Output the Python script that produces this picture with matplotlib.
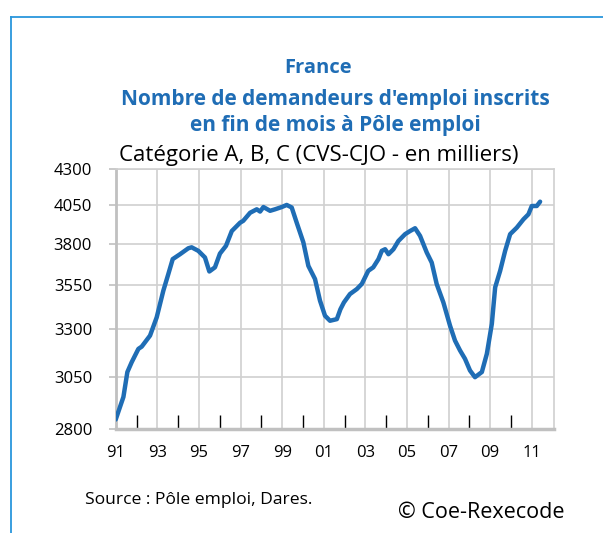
import numpy as np
import matplotlib.pyplot as plt
from matplotlib.lines import Line2D
from matplotlib.ticker import FixedLocator, NullFormatter, FixedFormatter

# demandeurs d'emploi cat. A,B,C (milliers)
years = [1991.0, 1991.37, 1991.56, 1991.77, 1992.09, 1992.25, 1992.65, 1992.97,
         1993.29, 1993.53, 1993.74, 1994.09, 1994.49, 1994.65, 1994.97, 1995.29,
         1995.50, 1995.77, 1996.01, 1996.30, 1996.58, 1996.98, 1997.13, 1997.46,
         1997.78, 1997.94, 1998.10, 1998.42, 1998.66, 1998.98, 1999.22, 1999.46,
         1999.70, 2000.02, 2000.26, 2000.58, 2000.82, 2001.06, 2001.30, 2001.63,
         2001.80, 2001.97, 2002.26, 2002.59, 2002.83, 2003.14, 2003.38, 2003.63,
         2003.79, 2003.95, 2004.11, 2004.35, 2004.59, 2004.91, 2005.15, 2005.39,
         2005.63, 2005.95, 2006.19, 2006.43, 2006.75, 2007.07, 2007.31, 2007.55,
         2007.79, 2008.03, 2008.27, 2008.60, 2008.84, 2009.08, 2009.24, 2009.48,
         2009.72, 2009.96, 2010.28, 2010.60, 2010.84, 2011.00, 2011.24, 2011.40]
values = [2842, 2950, 3074, 3125, 3194, 3206, 3265, 3365,
          3517, 3615, 3705, 3735, 3772, 3778, 3756, 3715,
          3630, 3655, 3739, 3787, 3881, 3935, 3947, 4000,
          4023, 4008, 4038, 4013, 4023, 4038, 4052, 4035,
          3935, 3809, 3664, 3585, 3459, 3374, 3346, 3355,
          3410, 3449, 3497, 3526, 3556, 3634, 3655, 3705,
          3756, 3766, 3735, 3766, 3818, 3861, 3881, 3899,
          3850, 3746, 3684, 3555, 3449, 3319, 3238, 3186,
          3142, 3082, 3048, 3074, 3168, 3329, 3536, 3634,
          3756, 3861, 3903, 3957, 3990, 4045, 4045, 4074]

yticks = [2800, 3050, 3300, 3550, 3800, 4050, 4300]
xticks = list(range(1991, 2012, 2))
xlabels = ["91", "93", "95", "97", "99", "01", "03", "05", "07", "09", "11"]
minor_x = list(range(1992, 2011, 2))

plt.rcParams['font.family'] = ['Open Sans', 'DejaVu Sans']

fig = plt.figure(figsize=(6.03, 5.33), dpi=100)
ax = fig.add_axes([0.1919, 0.196, 0.7269, 0.4869])

ax.plot(years, values, color='#1f6db5', lw=3.2, solid_capstyle='round', zorder=3)

ax.set_yscale('log')
ax.set_ylim(2800, 4300)
ax.set_xlim(1991, 2012.07)
ax.yaxis.set_major_locator(FixedLocator(yticks))
ax.yaxis.set_major_formatter(FixedFormatter([str(v) for v in yticks]))
ax.yaxis.set_minor_locator(FixedLocator([]))
ax.yaxis.set_minor_formatter(NullFormatter())
ax.set_xticks(xticks)
ax.set_xticklabels(xlabels)
ax.set_xticks(minor_x, minor=True)

ax.grid(True, which='major', color='#d0d0d0', lw=1.2)
ax.set_axisbelow(True)
ax.tick_params(axis='y', which='major', length=5, color='#c0c0c0', width=1.2,
               pad=12, labelsize=12)
ax.tick_params(axis='x', which='major', length=0, pad=12, labelsize=12)
ax.tick_params(axis='x', which='minor', direction='in', length=10, width=1,
               color='black')

for s in ['left', 'bottom']:
    ax.spines[s].set_color('#c0c0c0')
ax.spines['left'].set_linewidth(2)
ax.spines['bottom'].set_linewidth(2.5)
for s in ['top', 'right']:
    ax.spines[s].set_color('#d0d0d0')
    ax.spines[s].set_linewidth(1.2)

blue = '#1f6db5'
fig.text(318 / 603, 1 - 68 / 533, "France", color=blue, fontsize=14.5,
         fontweight='bold', ha='center', va='center')
fig.text(335 / 603, 1 - 100 / 533, "Nombre de demandeurs d'emploi inscrits",
         color=blue, fontsize=15, fontweight='bold', ha='center', va='center')
fig.text(335 / 603, 1 - 126 / 533, "en fin de mois à Pôle emploi",
         color=blue, fontsize=15, fontweight='bold', ha='center', va='center')
fig.text(319 / 603, 1 - 156 / 533, "Catégorie A, B, C (CVS-CJO - en milliers)",
         color='black', fontsize=16, ha='center', va='center')
fig.text(85 / 603, 1 - 500 / 533, "Source : Pôle emploi, Dares.",
         color='black', fontsize=12.6, ha='left', va='center')
fig.text(398 / 603, 1 - 512 / 533, "© Coe-Rexecode",
         color='black', fontsize=15.5, ha='left', va='center')

# cadre bleu
frame = '#2a96dc'
fig.add_artist(Line2D([11 / 603, 11 / 603], [0, 1 - 17 / 533], color=frame, lw=1.3))
fig.add_artist(Line2D([11 / 603, 1], [1 - 17 / 533, 1 - 17 / 533], color=frame, lw=1.3))

fig.savefig('out.png', dpi=100)
